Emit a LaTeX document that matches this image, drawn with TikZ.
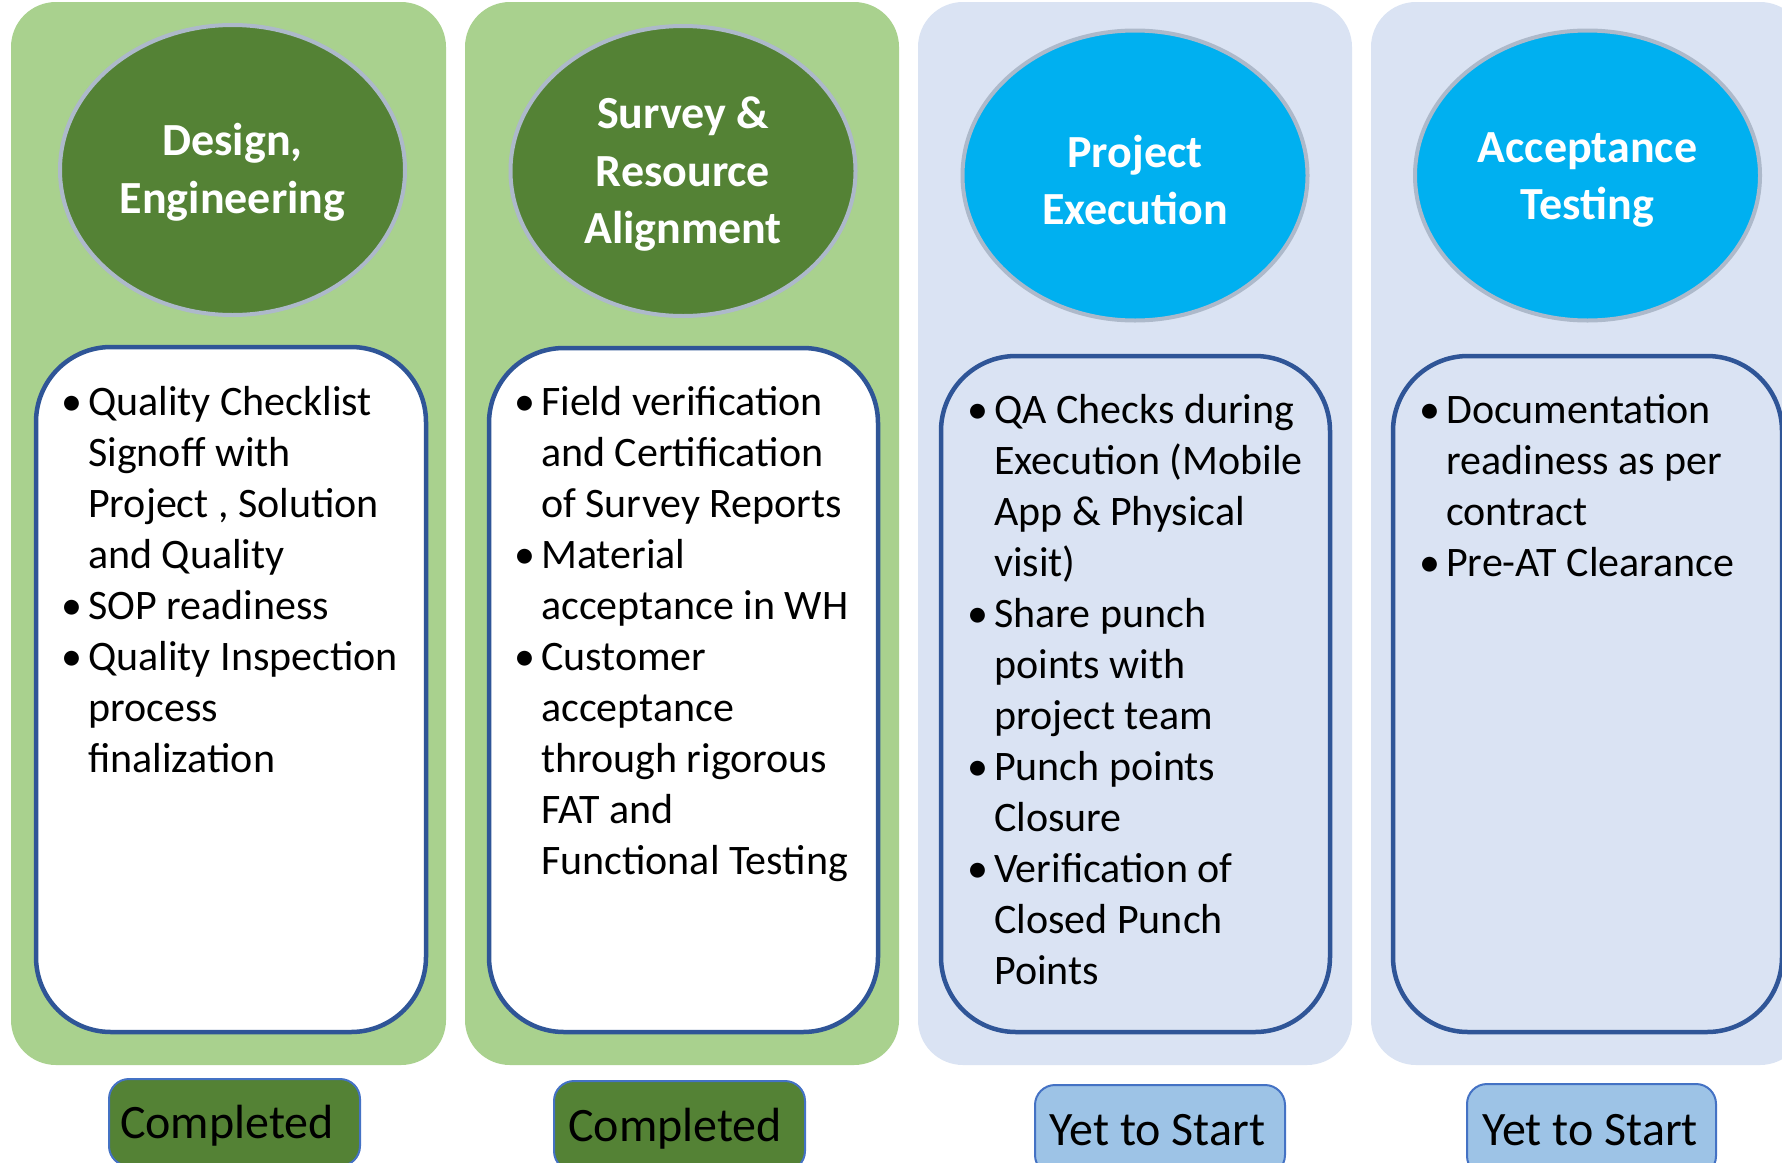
\documentclass[tikz,border=0pt]{standalone}
\usepackage{fontspec}
\setmainfont{Carlito}
\usetikzlibrary{shapes.geometric}
\definecolor{panelgreen}{HTML}{A9D18E}
\definecolor{darkgreen}{HTML}{548235}
\definecolor{panelblue}{HTML}{DAE3F3}
\definecolor{cyanball}{HTML}{00B0F0}
\definecolor{ballrim}{HTML}{ADB9CA}
\definecolor{boxrim}{HTML}{2F5597}
\definecolor{statrim}{HTML}{4472C4}
\definecolor{statblue}{HTML}{9DC3E6}
\newcommand{\bul}{\llap{\textbullet\hspace{6pt}}}
\newcommand{\firstln}{\rule{0pt}{34pt}}
\begin{document}
\begin{tikzpicture}[x=1pt,y=-1pt,
  panel/.style={rounded corners=45pt},
  ball/.style={ellipse, draw=ballrim, line width=4pt, minimum width=345pt, minimum height=290pt, inner sep=0pt},
  title/.style={inner sep=0pt, text=white, align=center, font=\fontsize{46}{57.5}\selectfont\bfseries},
  listbox/.style={draw=boxrim, line width=4.5pt, rounded corners=75pt},
  listtext/.style={anchor=north west, inner sep=0pt, align=left, font=\fontsize{42}{51}\selectfont},
  status/.style={draw=statrim, line width=2pt, rounded corners=20pt, inner sep=0pt},
  stattext/.style={inner sep=0pt, text height=31pt, text depth=0pt, font=\fontsize{48}{58}\selectfont, text=black}]
\useasboundingbox (0,0) rectangle (1782,1162);
\clip (0,0) rectangle (1782,1162);

% panels
\fill[panelgreen, panel] (11,2) rectangle (446,1065);
\fill[panelgreen, panel] (465,2) rectangle (899,1065);
\fill[panelblue, panel] (918,2) rectangle (1352,1065);
\fill[panelblue, panel] (1371,2) rectangle (1805,1065);

% ellipses
\node[ball, fill=darkgreen] (e1) at (232.5,170) {};
\node[ball, fill=darkgreen] (e2) at (683,171) {};
\node[ball, fill=cyanball] (e3) at (1135,175.5) {};
\node[ball, fill=cyanball] (e4) at (1587.5,175.5) {};
\node[title, yshift=-2.5pt] (h1) at (e1) {Design,\\Engineering};
\node[title, yshift=-3.5pt] (h2) at (e2) {Survey \&\\Resource\\Alignment};
\node[title, yshift=-4.5pt] (h3) at (e3) {Project\\Execution};
\node[title, yshift=-4.5pt] (h4) at (e4) {Acceptance\\Testing};

% list boxes
\draw[listbox, fill=white] (36,347) rectangle (426,1032);
\draw[listbox, fill=white] (489,348) rectangle (878,1032);
\draw[listbox] (941,356) rectangle (1330,1032);
\draw[listbox] (1393,356) rectangle (1782,1032);

% list texts
\node[listtext] (t1) at (88,381) {\firstln\bul Quality Checklist\\ Signoff with\\ Project , Solution\\ and Quality\\
  \bul SOP readiness\\ \bul Quality Inspection\\ process\\ finalization};
\node[listtext] (t2) at (541,381) {\firstln\bul Field verification\\ and Certification\\ of Survey Reports\\
  \bul Material\\ acceptance in WH\\ \bul Customer\\ acceptance\\ through rigorous\\ FAT and\\ Functional Testing};
\node[listtext] (t3) at (994,389) {\firstln\bul QA Checks during\\ Execution (Mobile\\ App \& Physical\\ visit)\\
  \bul Share punch\\ points with\\ project team\\ \bul Punch points\\ Closure\\ \bul Verification of\\ Closed Punch\\ Points};
\node[listtext] (t4) at (1446,389) {\firstln\bul Documentation\\ readiness as per\\ contract\\ \bul Pre-AT Clearance};

% status boxes
\node[status, fill=darkgreen, minimum width=251pt, minimum height=87pt] (s1) at (234.5,1122.5) {};
\node[status, fill=darkgreen, minimum width=251pt, minimum height=90pt] (s2) at (679.5,1126) {};
\node[status, fill=statblue, minimum width=250pt, minimum height=90pt] (s3) at (1160,1130) {};
\node[status, fill=statblue, minimum width=249pt, minimum height=92pt] (s4) at (1591.5,1130) {};
\node[stattext] (c1) at (227,1122.5) {Completed};
\node[stattext] (c2) at (675,1126) {Completed};
\node[stattext] (c3) at (1157.5,1130) {Yet to Start};
\node[stattext] (c4) at (1590,1130) {Yet to Start};
\end{tikzpicture}
\end{document}
